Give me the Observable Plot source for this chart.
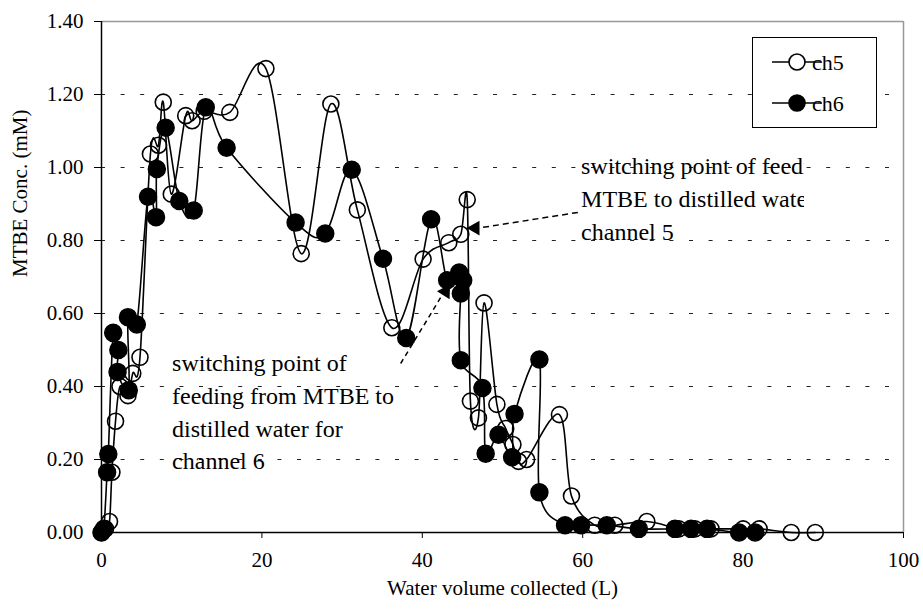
<!DOCTYPE html>
<html><head><meta charset="utf-8">
<script src="https://cdn.jsdelivr.net/npm/d3@7"></script>
<script src="https://cdn.jsdelivr.net/npm/@observablehq/plot@0.6"></script>
<style>
body{margin:0;background:#fff;}
#chart{width:923px;height:614px;}
</style></head><body><div id="chart"></div>
<script>
// ch5 (open circles) and ch6 (filled circles), in sampling order
const ch5X = [0, 0.5, 1.0, 1.3, 1.75, 2.3, 3.3, 3.9, 4.8, 6.1, 7.1, 7.7, 8.7, 10.5, 11.3, 12.8, 16.0, 20.5, 24.9, 28.6, 31.9, 36.2, 40.1, 43.3, 44.8, 45.6, 46.0, 47.0, 47.7, 49.3, 50.4, 51.3, 52.0, 53.0, 57.1, 58.6, 61.5, 64, 68, 72, 74, 76, 80, 82, 86, 89];
const ch5Y = [0.00, 0.01, 0.03, 0.165, 0.305, 0.40, 0.375, 0.436, 0.48, 1.037, 1.061, 1.179, 0.927, 1.142, 1.128, 1.154, 1.151, 1.271, 0.764, 1.174, 0.884, 0.561, 0.749, 0.794, 0.817, 0.912, 0.36, 0.314, 0.629, 0.351, 0.285, 0.241, 0.195, 0.20, 0.323, 0.10, 0.02, 0.02, 0.03, 0.01, 0.01, 0.01, 0.01, 0.01, 0.00, 0.00];
const ch6X = [0, 0.3, 0.7, 0.85, 1.46, 2.1, 2.0, 3.4, 3.3, 4.4, 5.8, 6.8, 6.9, 8.0, 9.7, 11.5, 13.0, 15.6, 24.2, 27.9, 31.2, 35.1, 38.0, 41.1, 43.1, 44.6, 45.1, 44.8, 44.8, 47.5, 47.9, 49.5, 51.2, 51.5, 54.6, 54.6, 57.8, 59.8, 63, 67, 71.5, 73.5, 75.5, 79.5, 81.5];
const ch6Y = [0.00, 0.01, 0.165, 0.215, 0.547, 0.50, 0.44, 0.39, 0.59, 0.57, 0.92, 0.864, 0.996, 1.109, 0.908, 0.882, 1.165, 1.054, 0.849, 0.819, 0.994, 0.75, 0.533, 0.858, 0.691, 0.712, 0.691, 0.655, 0.472, 0.396, 0.216, 0.268, 0.206, 0.325, 0.474, 0.11, 0.02, 0.02, 0.02, 0.01, 0.01, 0.01, 0.01, 0.00, 0.00];

const seriesNames = ["ch5", "ch6"];
const xTicks = [0, 20, 40, 60, 80, 100];
const yTicks = [0, 0.2, 0.4, 0.6, 0.8, 1.0, 1.2, 1.4];
const xTitle = "Water volume collected (L)";
const yTitle = "MTBE Conc. (mM)";
const note6 = ["switching point of", "feeding from MTBE to", "distilled water for", "channel 6"];
const note5 = ["switching point of feeding from", "MTBE to distilled water for", "channel 5"];

const ch5 = ch5X.map((x, i) => ({x, y: ch5Y[i]}));
const ch6 = ch6X.map((x, i) => ({x, y: ch6Y[i]}));
const font = "'Liberation Serif', 'Times New Roman', serif";

const plot = Plot.plot({
  width: 923, height: 614,
  marginLeft: 101, marginRight: 20, marginTop: 21, marginBottom: 82,
  style: {fontFamily: font, fontSize: "21px", background: "white", color: "black"},
  x: {domain: [0, 100], ticks: xTicks},
  y: {domain: [0, 1.4], ticks: yTicks},
  marks: [
    Plot.ruleY(yTicks.filter(v => v > 0 && v < 1.4), {stroke: "#222", strokeDasharray: "4,15.6", strokeWidth: 1}),
    Plot.ruleY([1.4], {stroke: "#999", strokeWidth: 1.5}),
    Plot.ruleX([100], {stroke: "#999", strokeWidth: 1.5}),
    Plot.axisY({ticks: yTicks, tickFormat: d3.format(".2f"), tickSize: 7, tickPadding: 11, label: null, fontSize: 21}),
    Plot.axisX({ticks: xTicks, tickSize: 6, tickPadding: 14, label: null, fontSize: 21}),
    Plot.ruleX([0], {stroke: "black", strokeWidth: 1.5}),
    Plot.ruleY([0], {stroke: "black", strokeWidth: 1.5}),
    Plot.text([yTitle], {frameAnchor: "left", dx: -81, rotate: -90, fontSize: 21}),
    Plot.text([xTitle], {frameAnchor: "bottom", dy: 62, fontSize: 21}),
    Plot.line(ch5, {x: "x", y: "y", curve: "cardinal", stroke: "black", strokeWidth: 1.6}),
    Plot.dot(ch5, {x: "x", y: "y", r: 8, stroke: "black", fill: "none", strokeWidth: 1.6}),
    Plot.line(ch6, {x: "x", y: "y", curve: "cardinal", stroke: "black", strokeWidth: 1.6}),
    Plot.dot(ch6, {x: "x", y: "y", r: 8.5, stroke: "black", fill: "black"}),
    // annotation for channel 6
    Plot.text([note6.join("\n")], {x: 8.8, y: 0.505, textAnchor: "start", lineAnchor: "top", lineHeight: 1.36, fontSize: 24}),
    Plot.link([{x1: 37.3, y1: 0.463, x2: 42.6, y2: 0.655}], {x1: "x1", y1: "y1", x2: "x2", y2: "y2", stroke: "black", strokeWidth: 1.5, strokeDasharray: "5,4"}),
    Plot.dot([{x: 42.9, y: 0.66}], {x: "x", y: "y", symbol: "triangle", r: 5.5, fill: "black", rotate: 32}),
    // annotation for channel 5
    Plot.text([note5.join("\n")], {x: 59.8, y: 1.045, textAnchor: "start", lineAnchor: "top", lineHeight: 1.36, fontSize: 24, clip: "frame"}),
    Plot.link([{x1: 59.4, y1: 0.877, x2: 47.0, y2: 0.834}], {x1: "x1", y1: "y1", x2: "x2", y2: "y2", stroke: "black", strokeWidth: 1.5, strokeDasharray: "6,4"}),
    Plot.dot([{x: 46.6, y: 0.834}], {x: "x", y: "y", symbol: "triangle", r: 5.5, fill: "black", rotate: -90})
  ]
});
document.getElementById("chart").appendChild(plot);

// the channel-5 note is cut off by its text box
const svg = d3.select(plot);
const defs = svg.append("defs");
defs.append("clipPath").attr("id", "note5clip").append("rect").attr("x", 0).attr("y", 0).attr("width", 804).attr("height", 614);
svg.selectAll("g[aria-label=text]").filter(function(){ return this.textContent.includes("channel 5"); }).attr("clip-path", "url(#note5clip)");

// legend
const lg = svg.append("g").attr("font-family", font).attr("font-size", 22);
lg.append("rect").attr("x", 752.5).attr("y", 37.5).attr("width", 124).attr("height", 90).attr("fill", "white").attr("stroke", "black");
seriesNames.forEach((name, i) => {
  const cy = 62 + i * 41;
  lg.append("line").attr("x1", 772).attr("x2", 822).attr("y1", cy).attr("y2", cy).attr("stroke", "black").attr("stroke-width", 1.6);
  lg.append("circle").attr("cx", 797).attr("cy", cy).attr("r", 8).attr("stroke", "black").attr("stroke-width", 1.6).attr("fill", i === 0 ? "white" : "black");
  lg.append("text").attr("x", 828).attr("y", cy).attr("dy", "0.35em").text(name);
});
</script>
</body></html>
